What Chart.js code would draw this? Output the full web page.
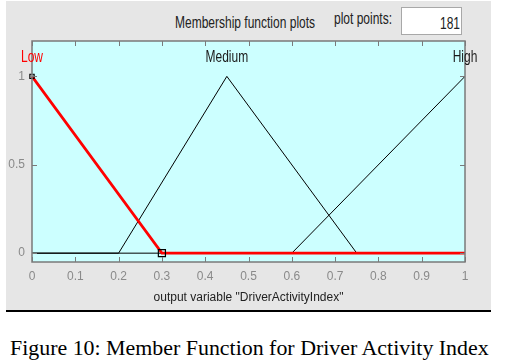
<!DOCTYPE html>
<html><head><meta charset="utf-8">
<script src="https://cdn.jsdelivr.net/npm/chart.js@4"></script>
<style>
html,body{margin:0;padding:0;background:#fff;}
#wrap{position:relative;width:505px;height:361px;overflow:hidden;font-family:"Liberation Sans",Arial,sans-serif;}
#panel{position:absolute;left:6px;top:1px;width:485px;height:309px;background:#e6e6e6;}
#rule{position:absolute;left:6px;top:310px;width:485px;height:2px;background:#000;}
#c{position:absolute;left:0;top:0;}
.t{position:absolute;white-space:nowrap;color:#222;font-size:12px;line-height:12px;transform-origin:left top;transform:scaleY(1.35);}
#box{position:absolute;left:401px;top:7px;width:61px;height:28px;background:#fff;border:1px solid #a8a8a8;box-sizing:border-box;}
#caption{position:absolute;left:10px;top:338px;font-family:"Liberation Serif","Times New Roman",serif;font-size:20px;line-height:20px;color:#000;white-space:nowrap;transform-origin:left top;transform:scaleX(1.095);}
</style></head>
<body><div id="wrap">
<div id="panel"></div><div id="rule"></div>
<div class="t" style="left:175px;top:14px;">Membership function plots</div>
<div class="t" style="left:334px;top:10px;">plot points:</div>
<div id="box"></div>
<div class="t" style="left:440px;top:15px;">181</div>
<canvas id="c" width="505" height="310"></canvas>
<div id="caption">Figure 10: Member Function for Driver Activity Index</div>
</div>
<script>
// Membership functions (vertices)
const lowX = [0, 0.3, 1];
const lowY = [1, 0, 0];
const medX = [0, 0.2, 0.45, 0.75, 1];
const medY = [0, 0, 1, 0, 0];
const highX = [0, 0.6, 1];
const highY = [0, 0, 1];
const mfNames = ["Low", "Medium", "High"];
const mfPeaks = [0, 0.45, 1];
const xTicks = [0, 0.1, 0.2, 0.3, 0.4, 0.5, 0.6, 0.7, 0.8, 0.9, 1];
const yTicks = [0, 0.5, 1];

const pts = (xs, ys) => xs.map((x, i) => ({x: x, y: ys[i]}));

const framePlugin = {
  id: 'frame',
  beforeDatasetsDraw(chart) {
    const {ctx, chartArea: a} = chart;
    ctx.save();
    ctx.fillStyle = '#ccffff';
    ctx.fillRect(a.left, a.top, a.right - a.left, a.bottom - a.top);
    ctx.restore();
  },
  afterDatasetsDraw(chart) {
    const {ctx, chartArea: a, scales} = chart;
    ctx.save();
    ctx.strokeStyle = '#7a7a7a';
    ctx.lineWidth = 1.5;
    ctx.strokeRect(a.left, a.top, a.right - a.left, a.bottom - a.top);
    ctx.lineWidth = 1;
    ctx.beginPath();
    xTicks.forEach(v => {
      const px = Math.round(scales.x.getPixelForValue(v)) + 0.5;
      ctx.moveTo(px, a.bottom); ctx.lineTo(px, a.bottom - 5);
      ctx.moveTo(px, a.top); ctx.lineTo(px, a.top + 5);
    });
    yTicks.forEach(v => {
      const py = Math.round(scales.y.getPixelForValue(v)) + 0.5;
      ctx.moveTo(a.left, py); ctx.lineTo(a.left + 5, py);
      ctx.moveTo(a.right, py); ctx.lineTo(a.right - 5, py);
    });
    ctx.stroke();
    // MF names
    ctx.font = '12px "Liberation Sans", Arial, sans-serif';
    ctx.textAlign = 'center';
    ctx.textBaseline = 'middle';
    mfNames.forEach((n, i) => {
      const px = scales.x.getPixelForValue(mfPeaks[i]);
      const py = scales.y.getPixelForValue(1.105);
      ctx.save();
      ctx.translate(px, py);
      ctx.scale(1, 1.35);
      ctx.fillStyle = i === 0 ? '#ff0000' : '#1a1a1a';
      ctx.fillText(n, 0, 0);
      ctx.restore();
    });
    ctx.restore();
  }
};

new Chart(document.getElementById('c'), {
  type: 'line',
  data: {
    datasets: [
      {label: mfNames[0], data: pts(lowX, lowY), borderColor: '#ff0000', borderWidth: 2.7,
       pointStyle: 'rect', pointRadius: [3, 5, 0], pointBackgroundColor: 'rgba(0,0,0,0)',
       pointBorderColor: '#000', pointBorderWidth: 1.2, tension: 0, clip: false},
      {label: mfNames[1], data: pts(medX, medY), borderColor: '#000', borderWidth: 1,
       pointRadius: 0, tension: 0},
      {label: mfNames[2], data: pts(highX, highY), borderColor: '#000', borderWidth: 1,
       pointRadius: 0, tension: 0}
    ]
  },
  options: {
    responsive: false,
    animation: false,
    events: [],
    layout: {padding: {left: 0, top: 41, right: 40, bottom: 0}},
    plugins: {legend: {display: false}, tooltip: {enabled: false}, title: {display: false}},
    scales: {
      x: {
        type: 'linear', min: 0, max: 1,
        afterBuildTicks: s => { s.ticks = xTicks.map(v => ({value: v})); },
        afterFit: s => { s.height = 48; },
        grid: {display: false, drawTicks: false},
        border: {display: false},
        ticks: {color: '#8a8a8a', padding: 7, maxRotation: 0, autoSkip: false,
                font: {size: 12, family: '"Liberation Sans", Arial, sans-serif'},
                callback: v => String(v)},
        title: {display: true, text: 'output variable "DriverActivityIndex"', color: '#222',
                font: {size: 12, family: '"Liberation Sans", Arial, sans-serif'},
                padding: {top: 0, bottom: 5}}
      },
      y: {
        type: 'linear', min: -0.05, max: 1.2,
        afterBuildTicks: s => { s.ticks = yTicks.map(v => ({value: v})); },
        afterFit: s => { s.width = 32; },
        grid: {display: false, drawTicks: false},
        border: {display: false},
        ticks: {color: '#8a8a8a', padding: 7,
                font: {size: 12, family: '"Liberation Sans", Arial, sans-serif'},
                callback: v => String(v)}
      }
    }
  },
  plugins: [framePlugin]
});
</script>
</body></html>
